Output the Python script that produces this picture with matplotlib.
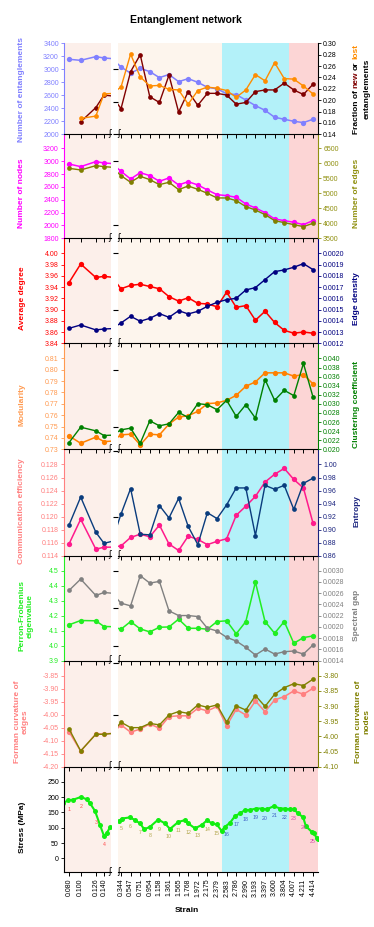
import numpy as np
import matplotlib.pyplot as plt

plt.rcParams['font.family'] = ['Liberation Sans', 'DejaVu Sans']

# values
strain = [0.080, 0.100, 0.126, 0.140, 0.344, 0.547, 0.751, 0.954, 1.158, 1.361, 1.565,
          1.768, 1.972, 2.175, 2.379, 2.583, 2.786, 2.990, 3.193, 3.397, 3.600, 3.804,
          4.007, 4.211, 4.414]
strain_labels = ['%.3f' % s for s in strain]

n_ent = [3154, 3138, 3195, 3174, 3036, 2940, 3015, 2964, 2872, 2920, 2810, 2856, 2800,
         2723, 2700, 2625, 2610, 2528, 2441, 2369, 2262, 2231, 2200, 2180, 2231]
frac_new = [np.nan, 0.162, 0.187, 0.209, 0.185, 0.250, 0.280, 0.206, 0.196, 0.244, 0.179,
            0.215, 0.191, 0.212, 0.212, 0.209, 0.193, 0.196, 0.215, 0.218, 0.218, 0.230,
            0.218, 0.210, 0.228]
frac_lost = [np.nan, 0.168, 0.172, 0.211, 0.223, 0.281, 0.241, 0.225, 0.226, 0.219, 0.218,
             0.193, 0.217, 0.223, 0.221, 0.217, 0.205, 0.218, 0.245, 0.234, 0.266, 0.238,
             0.237, 0.225, 0.211]

n_nodes = [2956, 2915, 2993, 2972, 2842, 2723, 2821, 2775, 2687, 2739, 2630, 2681, 2630,
           2552, 2479, 2464, 2438, 2334, 2272, 2199, 2101, 2075, 2049, 2013, 2075]
n_edges = [5833, 5778, 5922, 5889, 5589, 5367, 5567, 5456, 5289, 5367, 5122, 5244, 5133,
           5000, 4845, 4845, 4756, 4556, 4444, 4289, 4089, 4022, 3956, 3889, 4000]

avg_degree = [3.948, 3.981, 3.957, 3.959, 3.937, 3.943, 3.945, 3.941, 3.937, 3.923, 3.915,
              3.921, 3.911, 3.910, 3.905, 3.931, 3.904, 3.907, 3.881, 3.897, 3.877, 3.863,
              3.858, 3.860, 3.858]
edge_density = [0.001333, 0.001363, 0.001319, 0.001327, 0.001381, 0.001440, 0.001396,
                0.001422, 0.001464, 0.001431, 0.001490, 0.001461, 0.001484, 0.001529,
                0.001564, 0.001588, 0.001600, 0.001674, 0.001695, 0.001766, 0.001837,
                0.001852, 0.001876, 0.001908, 0.001855]

modularity = [0.7418, 0.7353, 0.7407, 0.7368, 0.7427, 0.7433, 0.7339, 0.7433, 0.7427,
              0.7522, 0.7584, 0.7595, 0.7634, 0.7702, 0.7708, 0.7731, 0.7775, 0.7855,
              0.7893, 0.7973, 0.7973, 0.7973, 0.7944, 0.7958, 0.7876]
clustering = [0.02148, 0.02487, 0.02406, 0.02303, 0.02428, 0.02465, 0.02133, 0.02627,
              0.02517, 0.02561, 0.02812, 0.02701, 0.03004, 0.02982, 0.02871, 0.03078,
              0.02723, 0.02982, 0.02686, 0.03535, 0.03078, 0.03299, 0.03181, 0.03889,
              0.03151]

comm_eff = [0.1158, 0.1196, 0.1150, 0.1153, 0.1155, 0.1168, 0.1173, 0.1169, 0.1187,
            0.1158, 0.1148, 0.1170, 0.1165, 0.1157, 0.1162, 0.1166, 0.1202, 0.1216,
            0.1231, 0.1253, 0.1265, 0.1274, 0.1257, 0.1244, 0.1190]
entropy = [0.907, 0.950, 0.896, 0.879, 0.924, 0.963, 0.893, 0.892, 0.937, 0.918, 0.948,
           0.905, 0.877, 0.926, 0.917, 0.938, 0.964, 0.964, 0.891, 0.968, 0.962, 0.968,
           0.931, 0.971, 0.979]

pf_eig = [4.139, 4.168, 4.166, 4.128, 4.110, 4.161, 4.112, 4.092, 4.123, 4.125, 4.177,
          4.116, 4.116, 4.110, 4.161, 4.166, 4.079, 4.161, 4.424, 4.161, 4.083, 4.161,
          4.016, 4.054, 4.065]
spec_gap = [0.002649, 0.002851, 0.002560, 0.002613, 0.002423, 0.002375, 0.002911,
            0.002780, 0.002810, 0.002286, 0.002203, 0.002203, 0.002185, 0.001977,
            0.001929, 0.001816, 0.001750, 0.001637, 0.001501, 0.001608, 0.001518,
            0.001560, 0.001572, 0.001518, 0.001679]

forman_edges = [-4.065, -4.140, -4.074, -4.074, -4.039, -4.067, -4.055, -4.035, -4.052,
                -4.007, -4.004, -4.004, -3.975, -3.985, -3.968, -4.042, -3.979, -4.001,
                -3.947, -3.988, -3.943, -3.930, -3.908, -3.921, -3.898]
forman_nodes = [-3.975, -4.048, -3.993, -3.993, -3.953, -3.971, -3.971, -3.957, -3.962,
                -3.929, -3.918, -3.924, -3.896, -3.904, -3.896, -3.953, -3.899, -3.913,
                -3.865, -3.901, -3.861, -3.839, -3.826, -3.832, -3.811]

# stress-strain curve (denser than the network frames)
stress_x = [0.070, 0.0788, 0.0874, 0.1006, 0.1103, 0.116, 0.1246, 0.1331, 0.140, 0.1446,
            0.1508, 0.302, 0.359, 0.535, 0.641, 0.747, 0.838, 0.958, 1.134, 1.276, 1.382,
            1.558, 1.700, 1.770, 1.912, 2.054, 2.172, 2.266, 2.372, 2.477, 2.547, 2.653,
            2.759, 2.865, 2.971, 3.077, 3.204, 3.325, 3.431, 3.585, 3.713, 3.819, 3.925,
            4.009, 4.100, 4.206, 4.263, 4.384, 4.433, 4.490, 4.524]
stress_y = [181, 190, 192, 201, 193, 180, 155, 109, 73, 82, 103,
            122, 130, 134, 125, 114, 95, 103, 127, 114, 96, 119, 125, 114, 98, 109,
            125, 114, 111, 90, 103, 116, 138, 147, 158, 158, 163, 163, 160, 171, 163,
            163, 160, 160, 147, 134, 105, 87, 82, 67, 63]

# ---- layout (pixel based) ----
W, H = 374, 927
fig = plt.figure(figsize=(W / 100, H / 100), dpi=100)


def fx(px):
    return px / W


def fy(py):
    return 1 - py / H


XL = (64, 111)
XR = (118, 318)
tops = [43.3, 134.3, 238.3, 343.3, 449.3, 555.7, 660.7, 766.7]
bots = [134.3, 238.3, 343.3, 449.3, 555.7, 660.7, 766.7, 872.3]
blue_start, red_start = 2.48, 3.905

panels = [
    dict(l=n_ent, lc='#8080ff', lac='#8080ff', llab='Number of entanglements',
         lylim=(2000, 3400), lticks=np.arange(2000, 3401, 200), lfmt='%.0f',
         r=[(frac_new, '#800000'), (frac_lost, '#ff8c00')], rac='black', rlab=None,
         rylim=(0.14, 0.30), rticks=np.arange(0.14, 0.301, 0.02), rfmt='%.2f'),
    dict(l=n_nodes, lc='#ff00ff', lac='#ff00ff', llab='Number of nodes',
         lylim=(1800, 3418), lticks=np.arange(1800, 3201, 200), lfmt='%.0f',
         r=[(n_edges, '#808000')], rac='#909010', rlab='Number of edges',
         rylim=(3500, 6967), rticks=np.arange(3500, 6501, 500), rfmt='%.0f'),
    dict(l=avg_degree, lc='#ff0000', lac='#ff0000', llab='Average degree',
         lylim=(3.84, 4.0267), lticks=np.arange(3.84, 4.001, 0.02), lfmt='%.2f',
         r=[(edge_density, '#000080')], rac='#000080', rlab='Edge density',
         rylim=(0.0012, 0.0021333), rticks=np.arange(0.0012, 0.00201, 0.0001), rfmt='%.4f'),
    dict(l=modularity, lc='#ff8000', lac='#ff9a50', llab='Modularity',
         lylim=(0.73, 0.8233), lticks=np.arange(0.73, 0.8101, 0.01), lfmt='%.2f',
         r=[(clustering, '#008000')], rac='#008000', rlab='Clustering coefficient',
         rylim=(0.020, 0.04333), rticks=np.arange(0.020, 0.0401, 0.002), rfmt='%.3f'),
    dict(l=comm_eff, lc='#ff1a8c', lac='#ff8080', llab='Communication efficiency',
         lylim=(0.114, 0.13033), lticks=np.arange(0.114, 0.1281, 0.002), lfmt='%.3f',
         r=[(entropy, '#0a3c7d')], rac='#1a237e', rlab='Entropy',
         rylim=(0.86, 1.0233), rticks=np.arange(0.86, 1.001, 0.02), rfmt='%.2f'),
    dict(l=pf_eig, lc='#22ee22', lac='#22ee22', llab='Perron-Frobenius\neigenvalue',
         lylim=(3.9, 4.6), lticks=np.arange(3.9, 4.501, 0.1), lfmt='%.1f',
         r=[(spec_gap, '#808080')], rac='#808080', rlab='Spectral gap',
         rylim=(0.0014, 0.003267), rticks=np.arange(0.0014, 0.003001, 0.0002), rfmt='%.4f'),
    dict(l=forman_edges, lc='#ff8080', lac='#ff8080', llab='Forman curvature of\nedges',
         lylim=(-4.20, -3.7917), lticks=np.arange(-4.20, -3.849, 0.05), lfmt='%.2f',
         r=[(forman_nodes, '#808000')], rac='#808000', rlab='Forman curvature of\nnodes',
         rylim=(-4.10, -3.75), rticks=np.arange(-4.10, -3.799, 0.05), rfmt='%.2f'),
]

tick_kw = dict(direction='out', length=2.5, width=0.6, labelsize=5, pad=1.2)

for i in range(8):
    top, bot = tops[i], bots[i]
    h = (bot - top) / H
    z = 40 - 3 * i
    axL = fig.add_axes([fx(XL[0]), fy(bot), (XL[1] - XL[0]) / W, h], zorder=z)
    axR = fig.add_axes([fx(XR[0]), fy(bot), (XR[1] - XR[0]) / W, h], zorder=z)
    axL.set_xlim(0.0714, 0.152)
    axR.set_xlim(0.28, 4.52)
    axL.set_facecolor('#fcefea')
    axR.set_facecolor('#fdf5ed')
    axR.axvspan(blue_start, red_start, color='#b3f1f9', lw=0, zorder=0)
    axR.axvspan(red_start, 4.52, color='#fcd5d5', lw=0, zorder=0)

    for ax in (axL, axR):
        for s in ('top', 'right', 'left'):
            ax.spines[s].set_visible(False)
        ax.spines['bottom'].set_linewidth(0.8)
        ax.tick_params(axis='x', direction='out', length=3.2, width=0.7,
                       labelsize=5, pad=1.5, labelrotation=90)
    axL.spines['left'].set_visible(True)
    axL.spines['left'].set_linewidth(0.8)
    axR.tick_params(axis='y', left=False, labelleft=False)
    axL.set_xticks(strain[:4])
    axR.set_xticks(strain[4:])
    if i == 7:
        axL.set_xticklabels(strain_labels[:4])
        axR.set_xticklabels(strain_labels[4:])
    else:
        axL.set_xticklabels([])
        axR.set_xticklabels([])

    # break marks
    for px in (110, 119):
        fig.text(fx(px), fy(bot - 1), '\u0283', fontsize=6, family='DejaVu Sans',
                 ha='center', va='center', zorder=100)

    ycen = 89 if i == 0 else bot - 45

    if i == 7:
        for ax in (axL, axR):
            ax.plot(stress_x, stress_y, '-o', color='#11ee11', lw=1.5, ms=3.6, mew=0)
            ax.set_ylim(-46, 300)
        axL.set_yticks(np.arange(0, 251, 50))
        axL.set_yticklabels(['%d' % v for v in np.arange(0, 251, 50)])
        axL.tick_params(axis='y', colors='black', **tick_kw)
        pt_colors = ['#ff4d4d'] * 4 + ['#b4a850'] * 11 + ['#3d5fc4'] * 7 + ['#d448a8'] * 3
        for k, s in enumerate(strain):
            ax = axL if k < 4 else axR
            yv = np.interp(s, stress_x, stress_y)
            ax.annotate(str(k + 1), (s, yv), xytext=(0, -9), textcoords='offset pixels',
                        ha='center', va='center', fontsize=3.8, color=pt_colors[k])
        fig.text(fx(22), fy(ycen), 'Stress (MPa)', rotation=90, ha='center', va='center',
                 fontsize=6, fontweight='bold', color='black')
        continue

    p = panels[i]
    axL2 = axL.twinx()
    axR2 = axR.twinx()
    axL2.set_zorder(z + 1)
    axR2.set_zorder(z + 1)
    ms = 3.8
    for ax in (axL, axR):
        ax.plot(strain, p['l'], '-o', color=p['lc'], lw=1.1, ms=ms, mew=0)
        ax.set_ylim(*p['lylim'])
    for ax in (axL2, axR2):
        for series, c in p['r']:
            ax.plot(strain, series, '-o', color=c, lw=1.0, ms=ms - 0.4, mew=0)
        ax.set_ylim(*p['rylim'])
    axL2.set_axis_off()
    for s in ('top', 'left', 'bottom'):
        axR2.spines[s].set_visible(False)
    axR2.spines['right'].set_color(p['rac'])
    axR2.spines['right'].set_linewidth(0.8)
    axR2.set_yticks(p['rticks'])
    axR2.set_yticklabels([p['rfmt'] % v for v in p['rticks']])
    axR2.tick_params(axis='y', colors=p['rac'], **tick_kw)

    axL.spines['left'].set_color(p['lac'])
    axL.set_yticks(p['lticks'])
    axL.set_yticklabels([p['lfmt'] % v for v in p['lticks']])
    axL.tick_params(axis='y', colors=p['lac'], **tick_kw)

    lx = 22
    if '\n' in p['llab']:
        lx = 26 if i == 5 else 21.5
    fig.text(fx(lx), fy(ycen), p['llab'], rotation=90, ha='center', va='center',
             fontsize=6, fontweight='bold', color=p['lac'], multialignment='center')
    if p['rlab'] is not None:
        rx = 362.5 if '\n' in p['rlab'] else 357
        fig.text(fx(rx), fy(ycen), p['rlab'], rotation=90, ha='center', va='center',
                 fontsize=6, fontweight='bold', color=p['rac'], multialignment='center')

# multi-coloured right label of the first panel
r = fig.canvas.get_renderer()
parts = [('Fraction of', 'black'), ('new', '#800000'), ('or', 'black'), ('lost', '#ff8c00')]
lab_kw = dict(rotation=90, ha='center', va='bottom', fontsize=6, fontweight='bold')
tmp1 = fig.text(0, 0, 'n n', **lab_kw)
tmp2 = fig.text(0, 0, 'nn', **lab_kw)
space = tmp1.get_window_extent(r).height - tmp2.get_window_extent(r).height
tmp1.remove()
tmp2.remove()
objs = [fig.text(fx(356), 0, s, color=c, **lab_kw) for s, c in parts]
lens = [o.get_window_extent(r).height for o in objs]
total = sum(lens) + space * (len(parts) - 1)
ypix = (H - 89) - total / 2
for o, ln in zip(objs, lens):
    o.set_y(ypix / H)
    ypix += ln + space
fig.text(fx(366.7), fy(89), 'entanglements', rotation=90, ha='center', va='center',
         fontsize=6, fontweight='bold', color='black')

fig.text(fx(186), fy(20), 'Entanglement network', ha='center', va='center',
         fontsize=7.5, fontweight='bold')
fig.text(fx(187), fy(911), 'Strain', ha='center', va='center', fontsize=6,
         fontweight='bold')

plt.savefig('out.png', dpi=100)
